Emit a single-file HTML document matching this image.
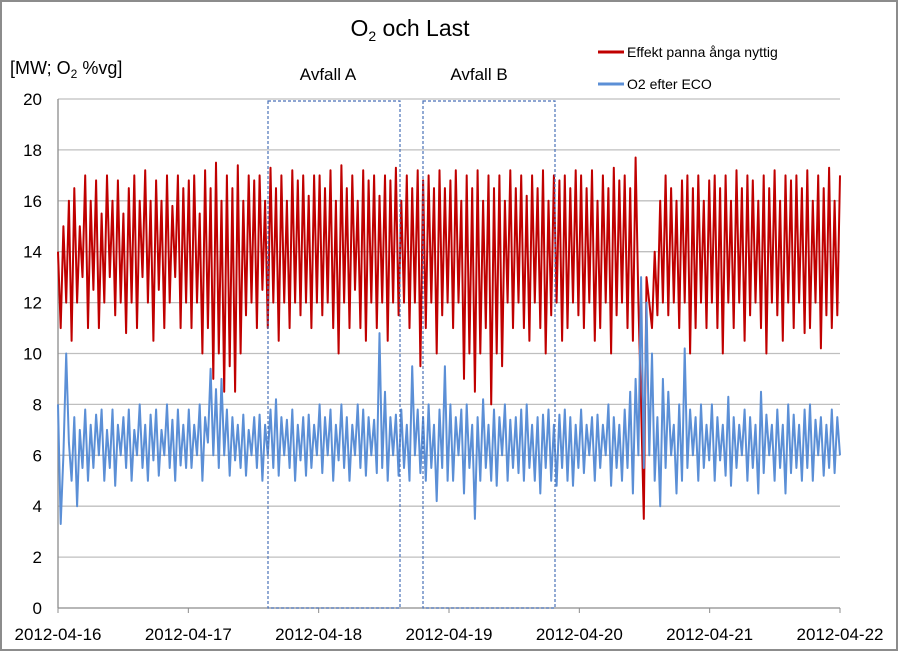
<!DOCTYPE html>
<html><head><meta charset="utf-8"><style>
html,body{margin:0;padding:0;background:#fff}
svg{display:block;font-family:"Liberation Sans",sans-serif}
</style></head><body>
<svg width="898" height="651" viewBox="0 0 898 651">
<rect x="1" y="1" width="896" height="649" fill="#fff" stroke="#8c8c8c" stroke-width="2"/>
<text x="410" y="36" font-size="23" text-anchor="middle">O<tspan font-size="14" dy="5">2</tspan><tspan dy="-5"> och Last</tspan></text>
<text x="10" y="74" font-size="18">[MW; O<tspan font-size="12" dy="4">2</tspan><tspan dy="-4"> %vg]</tspan></text>
<g id="grid"></g>
<g id="axes"></g>
<g id="series"></g>
<rect x="268" y="101" width="132" height="507" fill="none" stroke="#4a72b8" stroke-dasharray="3,2" stroke-width="1.2"/>
<rect x="423" y="101" width="132" height="507" fill="none" stroke="#4a72b8" stroke-dasharray="3,2" stroke-width="1.2"/>
<text x="328" y="80" font-size="17" text-anchor="middle">Avfall A</text>
<text x="479" y="80" font-size="17" text-anchor="middle">Avfall B</text>
<g>
<line x1="598" y1="52" x2="624" y2="52" stroke="#c00000" stroke-width="3"/>
<text x="627" y="57" font-size="14">Effekt panna ånga nyttig</text>
<line x1="598" y1="84" x2="624" y2="84" stroke="#5b8fd6" stroke-width="3"/>
<text x="627" y="89" font-size="14">O2 efter ECO</text>
</g>
</svg>
<script>
const yTicks=[0,2,4,6,8,10,12,14,16,18,20];
const xLabels=["2012-04-16","2012-04-17","2012-04-18","2012-04-19","2012-04-20","2012-04-21","2012-04-22"];
const effekt=[14,11,15,12,16,10.5,16.5,12,15,13,17,11,16,12.5,16.8,11,15.5,12,17,13,16,11.5,16.8,12,
15.5,10.8,16.5,12,17,11,16,13,17.2,12,16,10.5,16.8,12.5,16,11,17,12,15.8,13,17,11,16.5,12,
16.8,11,17,12,15.5,10,17.2,11,16.5,9,17.5,10,16,8.5,17,9.5,16.5,8.5,17.4,10,16,11.5,17,12,
16.8,11,17,12.5,16,11,17.3,12,16.5,10.5,17,12,16,11,17.2,12,16.8,11.5,17,12,16.2,11,17,12,
17,11.5,16.5,12,17.2,11,16,10,17.4,12,16.5,11,17,12.5,16,11,17.2,10.5,16.8,12,17,11,16.2,12,
17,10.5,16.8,12,17.3,11.5,16,12,17,11,16.5,12,17.2,9.5,16.8,11,17,12,16.5,10,17.2,11.5,16.5,12,
16.8,11,17.2,12,16,9,17,10,16.5,8.5,17.2,10,16,11,17,8,16.5,10,17,9.5,16,12,17.2,11,
16.5,12,17,11,16.2,10.5,17,12,16.5,11,17.2,10,16,11.5,17,12,16.8,10.5,17,11,16.5,12,17.2,11.5,
17,11,16.5,12,17.2,10.5,16,11,17,12,16.5,10,17.3,11.5,16.8,12,17,11,16.5,10.5,
17.7,12,8,3.5,13,12,11,14,11.5,16,12,17,11.5,16.5,12,16,11,16.8,12,17,10,16.5,11,17,12,16,11,16.8,
12,17,11,16.5,10,17,12,16,11,17.2,12,16.5,10.5,17,11.5,16.8,12,16,11,17,10,16.5,12,17.2,
11.5,16,10.5,17,12,16.8,11,17,12,16.5,10.8,17.2,11,16,12,17,10.2,16.5,11.5,17.3,11,16,11.5,17];
const o2=[8,3.3,6,10,6.5,5,7.5,4,7,5.5,7.8,5,7.2,5.5,7.6,6,7.8,5,7,5.5,7.8,4.8,7.2,6,
7.5,5.5,7.8,5,7,6,8,5.5,7.2,5,7.6,5.8,7.8,5.2,7,6,8,5.5,7.4,5,7.8,5.6,7.2,5.5,
7.8,5.5,7.2,6,8,5,7.5,6.5,9.4,6,8.6,5.5,9,6,7.8,5.2,7.5,5.8,7.2,5.5,7.6,5.2,7,6,
7.5,5.5,7.6,5,7.2,6,7.8,5.5,8.2,5.2,7.5,6,7.4,5.5,7.8,5,7.2,5.8,7.5,5.2,7.6,5.5,7.2,6,
8,5.3,7.5,6,7.8,5,7.2,5.8,8,5.5,7.5,5,7.2,6,8,5.5,7.8,5.2,7.5,6,7.4,5.3,10.8,5.5,
8.5,5,7.5,6,7.6,5.2,7.8,5.5,7.2,5,9.5,6,7.8,5.3,7.5,5,8,5.5,7.2,4.2,7.8,5.5,9.5,5,
8,5,7.5,6,7.8,4.5,8,5.5,7.2,3.5,7.5,5,8.2,5.5,7.2,5,7.8,4.8,7.5,6,8,5,7.4,5.5,
7.5,5.3,7.8,5,8,5.5,7.2,5,7.5,4.5,7.6,5.5,7.8,5,7.2,4.8,7.6,5.5,7.8,5,7.5,4.8,7.2,5.5,
7.8,5.3,7.2,6,7.5,5,7.6,5.5,7.2,6,8,4.8,7.5,5.5,7.2,5,7.8,5.5,8.5,4.5,
9,6,13,5.5,12,6,10,5,7.5,4,9,5.5,8.5,6,7.2,4.5,8,5,10.2,5.5,7.8,6,7.5,5,8,5.5,7.2,5.8,
8,5,7.5,5.8,7.2,5.2,8.3,4.8,7.5,5.5,7.2,6,7.8,5,7.5,5.5,7.2,4.5,8.5,5.3,7.6,6,7.2,5,
7.8,5.5,7.2,4.5,8,5.3,7.6,5.5,7.2,5,7.8,5.5,8,5,7.4,6,7.5,5.2,7.2,5.5,7.8,5.3,7.5,6];
const NS="http://www.w3.org/2000/svg";
const X0=58,X1=840,Y0=608,Y1=99,DAYS=6;
const xS=d=>X0+(X1-X0)*d/DAYS;
const yS=v=>Y0-(Y0-Y1)*v/20;
const grid=document.getElementById('grid'),axes=document.getElementById('axes'),ser=document.getElementById('series');
function mk(tag,attrs,parent){const e=document.createElementNS(NS,tag);for(const k in attrs)e.setAttribute(k,attrs[k]);parent.appendChild(e);return e;}
yTicks.forEach(v=>{
 if(v>0){const g=mk('line',{x1:X0,x2:X1,y1:yS(v),y2:yS(v),stroke:'#bfbfbf','stroke-width':1.3},grid);
 
 }
 const t=mk('text',{x:42,y:yS(v)+6,'font-size':17,'text-anchor':'end'},axes);t.textContent=v;
 
 
});
const ax=mk('line',{x1:X0,x2:X1,y1:Y0,y2:Y0,stroke:'#8c8c8c','stroke-width':1.3},axes);


const ay=mk('line',{x1:X0,x2:X0,y1:Y1,y2:Y0,stroke:'#8c8c8c','stroke-width':1.3},axes);


xLabels.forEach((l,i)=>{
 const tk=mk('line',{x1:xS(i),x2:xS(i),y1:Y0,y2:Y0+5,stroke:'#8c8c8c'},axes);
 
 
 const t=mk('text',{x:xS(i),y:640,'font-size':17,'text-anchor':'middle'},axes);t.textContent=l;
 
 
});
function line(arr,color,name){
 const n=arr.length;const pts=arr.map((v,i)=>xS(i*DAYS/(n-1)).toFixed(1)+','+yS(v).toFixed(1)).join(' ');
 const p=mk('polyline',{points:pts,fill:'none',stroke:color,'stroke-width':2,'stroke-linejoin':'round'},ser);
 
 
}
line(effekt,'#c00000','series-effekt');
line(o2,'#5b8fd6','series-o2');
</script>
</body></html>
